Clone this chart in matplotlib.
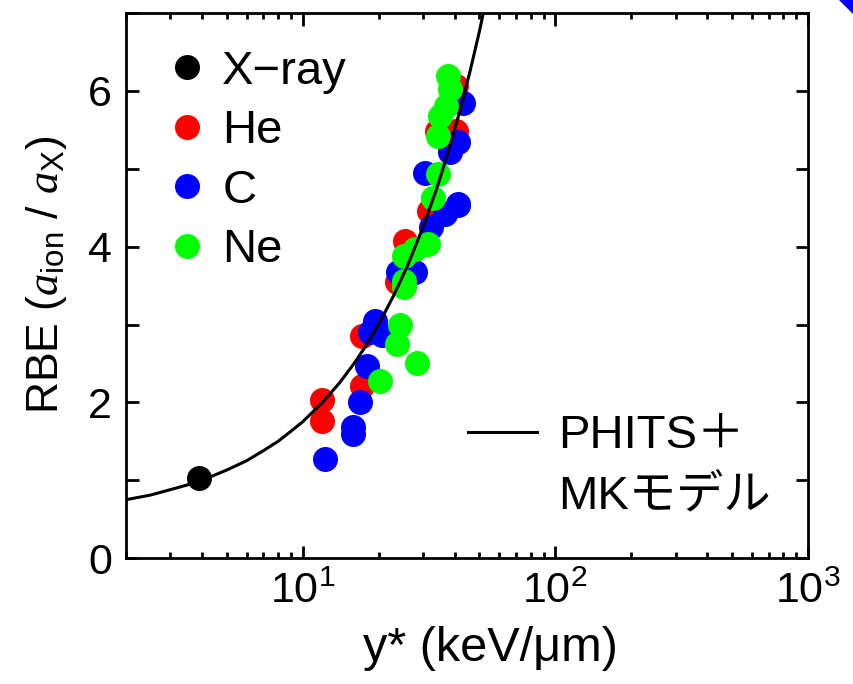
import matplotlib
matplotlib.use('Agg')
import matplotlib.pyplot as plt
from matplotlib.patches import Polygon
from matplotlib.ticker import MultipleLocator

plt.rcParams['font.family'] = ['Liberation Sans', 'Noto Sans CJK JP', 'DejaVu Sans']
plt.rcParams['mathtext.fontset'] = 'custom'
plt.rcParams['mathtext.rm'] = 'Liberation Sans'
plt.rcParams['mathtext.it'] = 'Liberation Serif:italic'
plt.rcParams['axes.unicode_minus'] = True

# measured RBE vs. saturation-corrected dose-mean lineal energy y*
xray_y = [3.9]
xray_rbe = [1.03]

he_y = [11.96, 11.96, 17.2, 17.2, 25.4, 23.6, 31.7, 33.9, 40.6, 40.6]
he_rbe = [2.03, 1.76, 2.85, 2.21, 4.07, 3.54, 4.46, 5.49, 5.49, 6.06]

c_y = [12.3, 15.9, 15.9, 16.9, 18.0, 19.4, 18.5, 20.6, 41.2, 36.5,
       32.3, 27.9, 23.9, 43.2, 41.2, 38.3, 30.5, 41.2]
c_rbe = [1.27, 1.68, 1.60, 2.00, 2.47, 3.05, 2.90, 2.86, 4.53, 4.42,
         4.25, 3.67, 3.67, 5.85, 5.34, 5.21, 4.95, 4.55]

ne_y = [24.2, 23.6, 28.3, 20.3, 32.9, 31.4, 27.9, 25.1, 25.1, 25.1,
        37.7, 38.3, 37.1, 34.9, 34.4, 34.4]
ne_rbe = [3.00, 2.75, 2.50, 2.28, 4.63, 4.03, 3.97, 3.88, 3.56, 3.48,
          6.19, 6.02, 5.81, 5.68, 5.42, 4.93]

# PHITS + MK model prediction
model_y = [2, 2.5, 3, 3.5, 4, 5, 6, 7, 8, 9, 10, 12, 14, 16, 18, 20,
           23, 26, 30, 34, 38, 42, 46, 50, 55]
model_rbe = [0.75, 0.81, 0.88, 0.94, 1.00, 1.13, 1.25, 1.38, 1.50, 1.63,
             1.75, 2.00, 2.25, 2.50, 2.75, 3.00, 3.38, 3.75, 4.25, 4.75,
             5.25, 5.75, 6.25, 6.75, 7.38]

fig = plt.figure(figsize=(8.54, 6.84), dpi=100)
ax = fig.add_axes([0.1475, 0.184, 0.7985, 0.797])

ms = 18
line, = ax.plot(model_y, model_rbe, color='black', lw=2.2, zorder=5)
ax.plot(he_y, he_rbe, 'o', color='#ff0000', ms=ms, mew=0, zorder=2)
ax.plot(c_y, c_rbe, 'o', color='#0000ff', ms=ms, mew=0, zorder=3)
ax.plot(ne_y, ne_rbe, 'o', color='#00ff00', ms=ms, mew=0, zorder=4)
ax.plot(xray_y, xray_rbe, 'o', color='black', ms=ms, mew=0, zorder=6)

ax.set_xscale('log')
ax.set_xlim(2, 1000)
ax.set_ylim(0, 7)
ax.yaxis.set_major_locator(MultipleLocator(2))
ax.yaxis.set_minor_locator(MultipleLocator(1))

for s in ax.spines.values():
    s.set_linewidth(2)
ax.tick_params(which='both', direction='in', top=True, right=True,
               width=2, labelsize=31, pad=10)
ax.tick_params(axis='y', which='both', length=9)
ax.tick_params(axis='x', which='major', length=9)
ax.tick_params(axis='x', which='minor', length=4)

ax.set_xlabel('y* (keV/μm)', fontsize=35)
ax.xaxis.set_label_coords(0.534, -0.125)
ax.set_ylabel(r'RBE ($a_{\mathrm{ion}}$ / $a_{\mathrm{X}}$)', fontsize=32)
ax.yaxis.set_label_coords(-0.083, 0.52)

# ion species legend
handles = [
    plt.Line2D([], [], ls='none', marker='o', color='black', ms=ms, mew=0),
    plt.Line2D([], [], ls='none', marker='o', color='#ff0000', ms=ms, mew=0),
    plt.Line2D([], [], ls='none', marker='o', color='#0000ff', ms=ms, mew=0),
    plt.Line2D([], [], ls='none', marker='o', color='#00ff00', ms=ms, mew=0),
]
leg1 = ax.legend(handles, ['X−ray', 'He', 'C', 'Ne'], loc='upper left',
                 bbox_to_anchor=(0.027, 0.976), frameon=False, fontsize=34,
                 handlelength=0.8, handletextpad=0.35, labelspacing=0.33,
                 borderpad=0)
ax.add_artist(leg1)

# model curve legend, second line without a handle
blank = plt.Line2D([], [], ls='none')
ax.legend([line, blank], ['PHITS＋', 'MKモデル'], loc='lower right',
          bbox_to_anchor=(0.98, 0.028), frameon=False, fontsize=34,
          handlelength=1.45, handletextpad=0.45, labelspacing=0.36,
          borderpad=0)

# corner of the arrow from the neighbouring panel
fig.patches.append(Polygon([[0.983, 1.0], [1.0, 1.0], [1.0, 0.978]],
                           closed=True, transform=fig.transFigure,
                           facecolor='#0000ff', edgecolor='none'))

fig.savefig('out.png', dpi=100)
